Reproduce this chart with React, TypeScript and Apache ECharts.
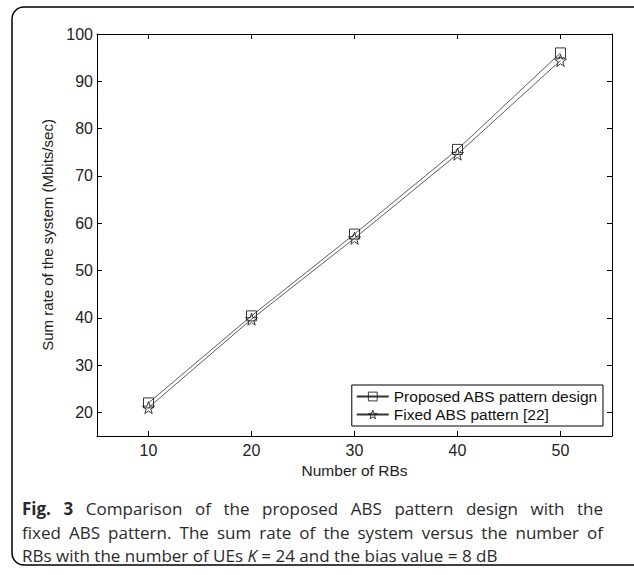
import React, { useEffect, useRef } from "react";
import * as echarts from "echarts";

const rbs = [10, 20, 30, 40, 50];
const proposed = [22.0, 40.4, 57.7, 75.6, 96.0];
const fixedAbs = [21.0, 39.7, 56.8, 74.6, 94.4];
const xTicks = [10, 20, 30, 40, 50];
const yTicks = [20, 30, 40, 50, 60, 70, 80, 90, 100];
const seriesNames = ["Proposed ABS pattern design", "Fixed ABS pattern [22]"];
const captionLine1 = ["Fig.", "3", "Comparison", "of", "the", "proposed", "ABS", "pattern", "design", "with", "the"];
const captionLine2 = "fixed ABS pattern. The sum rate of the system versus the number of".split(" ");
const captionLine3a = "RBs with the number of UEs ";
const captionLine3b = " = 24 and the bias value = 8 dB";

const STAR =
  "path://M0,-10 L2.35,-3.24 L9.51,-3.09 L3.8,1.24 L5.88,8.09 L0,4 L-5.88,8.09 L-3.8,1.24 L-9.51,-3.09 L-2.35,-3.24 Z";

export default function App() {
  const ref = useRef<HTMLDivElement>(null);
  useEffect(() => {
    document.body.style.margin = "0";
    if (!ref.current) return;
    const chart = echarts.init(ref.current, undefined, { renderer: "svg" });
    const font = "'Liberation Sans', Arial, Helvetica, sans-serif";
    const capFont = "'Open Sans', 'Noto Sans', sans-serif";
    const capSize = 17;
    const capColor = "#2a2a2a";
    const canvas = document.createElement("canvas");
    const ctx = canvas.getContext("2d")!;
    const measure = (t: string, weight = "normal") => {
      ctx.font = `${weight} ${capSize}px ${capFont}`;
      return ctx.measureText(t).width;
    };
    const capLeft = 22;
    const capRight = 603;
    const justify = (words: string[], boldCount: number, y: number) => {
      const widths = words.map((w, i) => measure(w, i < boldCount ? "bold" : "normal"));
      const total = widths.reduce((a, b) => a + b, 0);
      const gap = (capRight - capLeft - total) / (words.length - 1);
      let x = capLeft;
      return words.map((w, i) => {
        const el = {
          type: "text",
          x,
          y,
          silent: true,
          style: {
            text: w,
            fill: capColor,
            fontSize: capSize,
            fontFamily: capFont,
            fontWeight: i < boldCount ? "bold" : "normal",
            verticalAlign: "middle",
            align: "left",
          },
        };
        x += widths[i] + gap;
        return el;
      });
    };
    const axisCommon = {
      axisLine: { show: true, lineStyle: { color: "#000", width: 1 } },
      splitLine: { show: false },
    };
    const tick = (vals: number[]) => ({
      show: true,
      inside: true,
      length: 5,
      customValues: vals,
      lineStyle: { color: "#000" },
    });
    const mkData = (arr: number[]) => rbs.map((x, i) => [x, arr[i]]);
    chart.setOption({
      animation: false,
      backgroundColor: "#fff",
      grid: { left: 97, right: 22, top: 34, bottom: 139, containLabel: false },
      xAxis: [
        {
          type: "value",
          min: 5,
          max: 55,
          position: "bottom",
          ...axisCommon,
          axisTick: tick(xTicks),
          axisLabel: { customValues: xTicks, color: "#222", fontSize: 16, fontFamily: font, margin: 6 },
          name: "Number of RBs",
          nameLocation: "middle",
          nameGap: 24,
          nameTextStyle: { color: "#222", fontSize: 15.5, fontFamily: font },
        },
        {
          type: "value",
          min: 5,
          max: 55,
          position: "top",
          ...axisCommon,
          axisTick: tick(xTicks),
          axisLabel: { show: false },
        },
      ],
      yAxis: [
        {
          type: "value",
          min: 15,
          max: 100,
          position: "left",
          ...axisCommon,
          axisTick: tick(yTicks),
          axisLabel: { customValues: yTicks, color: "#222", fontSize: 16, fontFamily: font, margin: 4 },
          name: "Sum rate of the system (Mbits/sec)",
          nameLocation: "middle",
          nameGap: 38,
          nameTextStyle: { color: "#222", fontSize: 15, fontFamily: font },
        },
        {
          type: "value",
          min: 15,
          max: 100,
          position: "right",
          ...axisCommon,
          axisTick: tick(yTicks),
          axisLabel: { show: false },
        },
      ],
      legend: {
        orient: "vertical",
        right: 31,
        bottom: 149,
        backgroundColor: "#fff",
        borderColor: "#000",
        borderWidth: 1,
        borderRadius: 0,
        padding: [3, 5, 3, 4],
        itemGap: 1,
        itemWidth: 32,
        itemHeight: 11,
        textStyle: { color: "#111", fontSize: 15.5, lineHeight: 17, fontFamily: font },
        itemStyle: { color: "rgba(255,255,255,0)", borderColor: "#222", borderWidth: 0.9 },
        data: seriesNames,
      },
      series: [
        {
          name: seriesNames[0],
          type: "line",
          data: mkData(proposed),
          symbol: "rect",
          symbolSize: 10,
          lineStyle: { color: "#333", width: 0.8 },
          itemStyle: { color: "rgba(255,255,255,0)", borderColor: "#222", borderWidth: 0.9 },
        },
        {
          name: seriesNames[1],
          type: "line",
          data: mkData(fixedAbs),
          symbol: STAR,
          symbolSize: 12,
          lineStyle: { color: "#333", width: 0.8 },
          itemStyle: { color: "rgba(255,255,255,0)", borderColor: "#222", borderWidth: 0.9 },
        },
      ],
      graphic: [
        {
          type: "rect",
          shape: { x: 12, y: 7, width: 640, height: 558, r: 12 },
          style: { fill: "none", stroke: "#000", lineWidth: 1.5 },
          silent: true,
        },
        ...justify(captionLine1, 2, 508.5),
        ...justify(captionLine2, 0, 532),
        {
          type: "text",
          x: capLeft,
          y: 555.5,
          silent: true,
          style: {
            text: captionLine3a + "{i|K}" + captionLine3b,
            fill: capColor,
            fontSize: capSize,
            fontFamily: capFont,
            verticalAlign: "middle",
            rich: {
              i: { fontStyle: "italic", fontSize: capSize, fontFamily: capFont, fill: capColor },
            },
          },
        },
      ],
    });
    return () => chart.dispose();
  }, []);
  return <div ref={ref} style={{ width: 634, height: 575 }} />;
}
